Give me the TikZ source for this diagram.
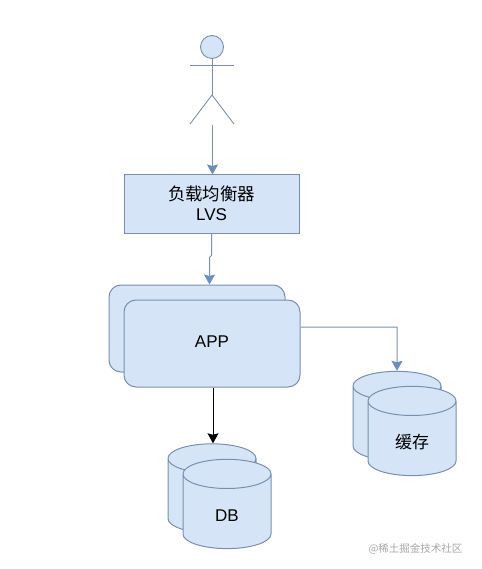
\documentclass[tikz,border=0pt]{standalone}
\usepackage{fontspec}
\setmainfont{Liberation Sans}
\newfontfamily\cjkfont{Noto Sans CJK SC}
\usetikzlibrary{positioning,arrows.meta,shapes.geometric}
\definecolor{boxfill}{RGB}{214,228,247}
\definecolor{boxline}{RGB}{122,143,175}
\definecolor{arrline}{RGB}{108,142,191}
\tikzset{
  flowarr/.style={-{Stealth[length=10pt,width=11pt,inset=1.5pt,color=arrline,fill=arrline]},line width=1pt,draw=boxline},
  blackarr/.style={-{Stealth[length=10pt,width=11pt,inset=1.5pt]},line width=1pt,draw=black},
  stick/.style={draw=boxline,line width=0.9pt},
  lbbox/.style={draw=boxline,fill=boxfill,line width=1pt,minimum width=175pt,minimum height=58pt,
                inner sep=0pt,align=center,font=\fontsize{17}{20}\selectfont},
  appbox/.style={draw=boxline,fill=boxfill,line width=1pt,rounded corners=12pt,minimum width=176pt,
                 minimum height=87pt,inner sep=0pt,font=\fontsize{17}{20}\selectfont},
  dbcyl/.style={cylinder,shape border rotate=90,aspect=0.73,draw=boxline,fill=boxfill,line width=1pt,
                minimum width=88pt,minimum height=87pt,inner sep=0pt,text width=40pt,align=center,
                text height=32.5pt,text depth=12.5pt,font=\fontsize{17}{20}\selectfont}
}

\begin{document}
\begin{tikzpicture}[x=1pt,y=-1pt]
\useasboundingbox (0,0) rectangle (481,569);
% actor
\node[circle,stick,fill=boxfill,minimum size=23pt,inner sep=0pt] (head) at (212,47) {};
\coordinate (hip) at (212,95);
\coordinate (armleft) at (190,65);
\coordinate (armright) at (234,65);
\coordinate (footleft) at (190,124);
\coordinate (footright) at (234,124);
\coordinate (actorend) at (212.5,125);
\draw[stick] (head.south) -- (hip);
\draw[stick] (armleft) -- (armright);
\draw[stick] (footleft) -- (hip) -- (footright);

\node[lbbox] (lvs) at (211.5,204) {\raisebox{2pt}{\cjkfont\fontsize{17.4}{20}\selectfont 负载均衡器}\\\raisebox{2pt}{LVS}};

\node[appbox] (appback) at (197,328.5) {};
\node[appbox,text height=9pt,text depth=2pt] (appfront) at (212,343.5) {APP};

\node[dbcyl] (dbback) at (212,496) {};
\node[dbcyl] (dbfront) at (227,511.5) {DB};

\node[dbcyl] (cacheback) at (397,423.5) {};
\node[dbcyl] (cachefront) at (412,438.5) {{\cjkfont 缓存}};

\node[text=gray!70,font=\cjkfont\fontsize{10.5}{12}\selectfont,anchor=east] (mark) at (466,549) {@稀土掘金技术社区};

\draw[flowarr] (actorend) -- (lvs.north -| actorend);
\draw[flowarr] (lvs.south) -- ++(0,22) -- ++(-2,2) -- (appback.north -| 209.5,0);
\draw[flowarr] (appfront.east |- 0,327) -- (397,327) -- (cacheback.north);
\draw[blackarr] (appfront.south -| 213,0) -- (dbback.north -| 213,0);
\end{tikzpicture}
\end{document}
